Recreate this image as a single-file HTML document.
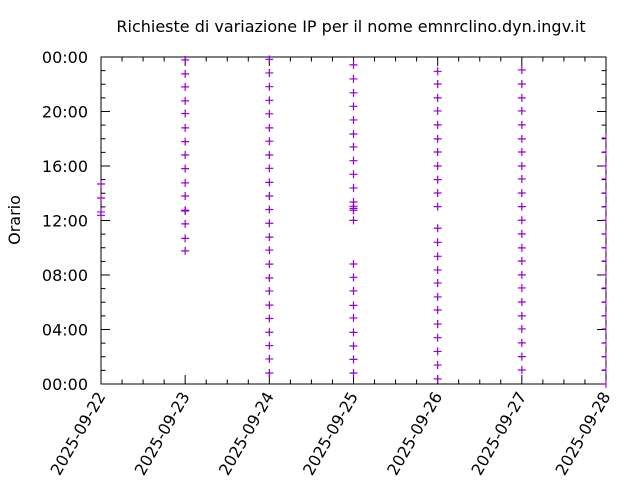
<!DOCTYPE html>
<html><head><meta charset="utf-8"><style>
body{margin:0;background:#fff}
svg{display:block;font-family:"DejaVu Sans","Liberation Sans",sans-serif}
</style></head><body>
<svg id="chart" width="640" height="480" viewBox="0 0 640 480">
<defs><clipPath id="rc"><rect x="0" y="0" width="606.5" height="480"/></clipPath></defs>
<rect width="640" height="480" fill="#fff"/>
<text x="351" y="32" font-size="16" text-anchor="middle">Richieste di variazione IP per il nome emnrclino.dyn.ingv.it</text>
<text transform="translate(20,220) rotate(-90)" font-size="16" text-anchor="middle">Orario</text>
<g id="axes"></g><g id="marks" clip-path="url(#rc)"></g>
</svg>
<script>
const dayLabels = ["2025-09-22","2025-09-23","2025-09-24","2025-09-25","2025-09-26","2025-09-27","2025-09-28"];
const yTickLabels = ["00:00","04:00","08:00","12:00","16:00","20:00","00:00"];
const day0 = [14.68,13.65,12.63,12.38];
const day1 = [23.79,22.76,21.81,20.78,19.85,18.80,17.79,16.81,15.81,14.76,13.80,12.75,12.70,11.75,10.69,9.77];
const day2 = [23.83,22.83,21.82,20.82,19.83,18.8,17.82,16.81,15.83,14.8,13.8,12.81,11.8,10.78,9.83,8.8,7.78,6.82,5.79,4.81,3.8,2.82,1.84,0.81];
const day3 = [23.42,22.39,21.37,20.38,19.38,18.35,17.40,16.39,15.39,14.39,13.36,13.04,12.89,12.75,12.01,8.81,7.83,6.83,5.77,4.85,3.79,2.79,1.81,0.81];
const day4 = [22.95,22.02,21.0,20.04,19.02,17.99,17.03,16.0,15.0,14.02,13.02,11.43,10.40,9.37,8.37,7.41,6.39,5.43,4.40,3.40,2.39,1.39,0.37];
const day5 = [23.05,22.02,21.0,20.04,19.02,17.99,17.03,16.0,15.05,14.02,13.02,12.02,11.02,9.99,9.03,8.01,7.05,6.02,5.0,4.04,3.02,2.01,1.03];
const day6 = [18.06,17.03,16.0,15.05,14.02,13.02,12.02,11.02,9.99,9.03,8.01,7.05,6.02,5.0,4.04,3.02,2.01,1.03,0.0];
const series = [day0,day1,day2,day3,day4,day5,day6];

const L=101,R=606,T=57,B=384;
const xs=d=>L+(R-L)*d/6;
const ys=h=>B-(B-T)*h/24;
const NS="http://www.w3.org/2000/svg";
function mk(tag,attrs,parent){const e=document.createElementNS(NS,tag);for(const k in attrs)e.setAttribute(k,attrs[k]);parent.appendChild(e);return e;}
const ax=document.getElementById('axes'), mg=document.getElementById('marks');
let p="";
for(let h=0;h<=24;h++){const y=ys(h);const len=h%4===0?9:4.5;p+=`M${L},${y}h${len}M${R},${y}h${-len}`;}
for(let q=0;q<=24;q++){const x=xs(q/4);const len=q%4===0?9:4.5;p+=`M${x},${B}v${-len}M${x},${T}v${len}`;}
const ticks=mk('path',{d:p,stroke:'#000','stroke-width':1,fill:'none'},ax);


const frame=mk('rect',{x:L,y:T,width:R-L,height:B-T,fill:'none',stroke:'#000','stroke-width':1},ax);


yTickLabels.forEach((t,i)=>{
  const e=mk('text',{x:88,y:ys(i*4)+6,'font-size':16,'text-anchor':'end'},ax);e.textContent=t;
  
  
});
dayLabels.forEach((t,i)=>{
  const x=xs(i);
  const e=mk('text',{transform:`translate(${x+5},${B+12}) rotate(-60)`,'font-size':16,'text-anchor':'end'},ax);e.textContent=t;
  
  
});
series.forEach((arr,d)=>{
  arr.forEach(h=>{
    const x=xs(d),y=ys(h);
    const m=mk('path',{d:`M${x-4},${y}h8M${x},${y-4}v8`,stroke:'#9400d3','stroke-width':1.2,fill:'none'},mg);
    
    
  });
});
</script>
</body></html>
